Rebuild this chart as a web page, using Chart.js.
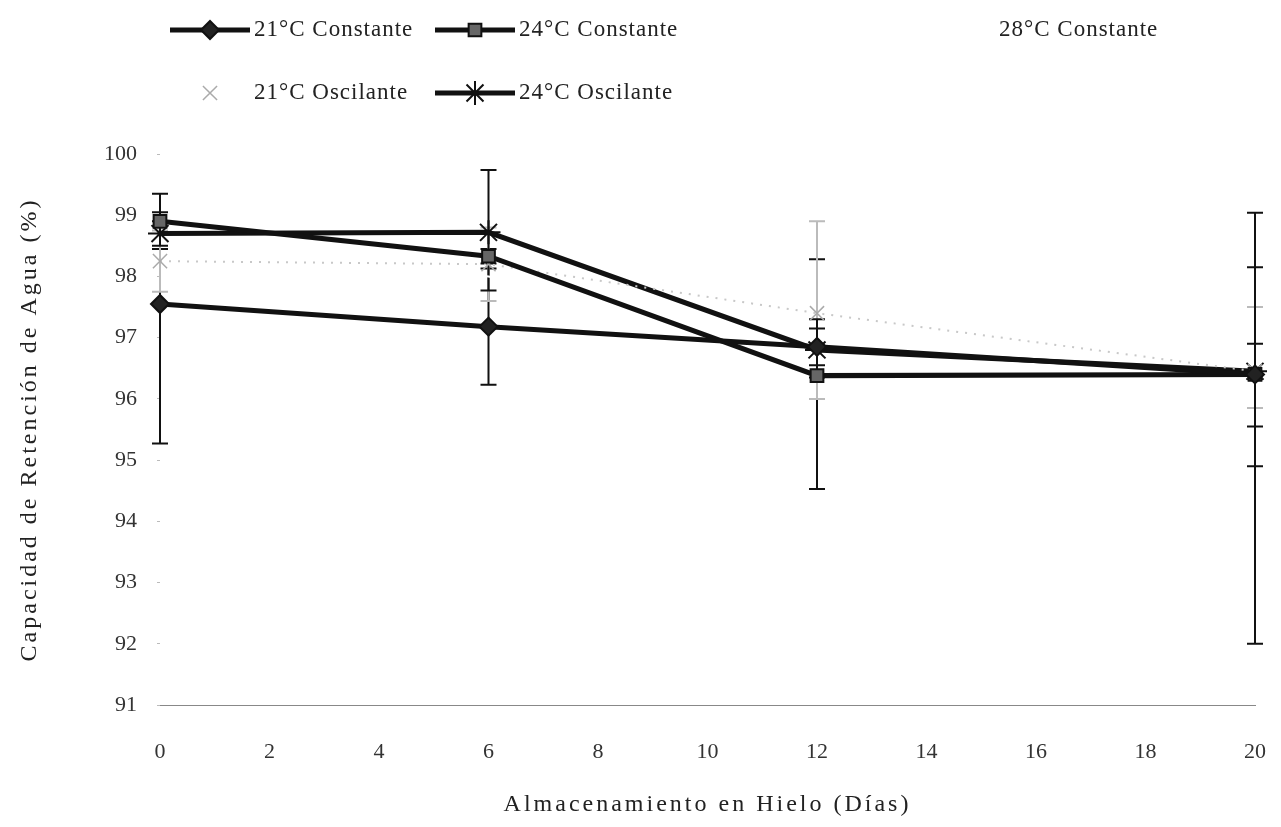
<!DOCTYPE html>
<html>
<head>
<meta charset="utf-8">
<script src="https://cdn.jsdelivr.net/npm/chart.js@4/dist/chart.umd.min.js"></script>
<style>
  html, body { margin: 0; padding: 0; background: #fff; overflow: hidden; }
  canvas { display: block; }
</style>
</head>
<body>
<canvas id="chart" width="1281" height="827"></canvas>
<script>
// storage days on ice
const days = [0, 6, 12, 20];

// water holding capacity (%) per treatment
const const21 = [97.55, 97.18, 96.85, 96.4];
const const24 = [98.9, 98.33, 96.38, 96.4];
const const28 = [98.6, 98.0, 96.9, 96.4];
const osc21 = [98.25, 98.2, 97.4, 96.45];
const osc24 = [98.7, 98.72, 96.8, 96.45];

// error bars (up / down)
const const21Up = [1.5, 0.95, 0.3, 2.64];
const const21Down = [2.28, 0.95, 0.3, 1.5];
const const24Up = [0.45, 0.12, 1.9, 0.5];
const const24Down = [0.45, 0.12, 1.85, 4.4];
const osc21Up = [0.5, 0.6, 1.5, 1.05];
const osc21Down = [0.5, 0.6, 1.4, 0.6];
const osc24Up = [0.2, 1.02, 0.5, 1.7];
const osc24Down = [0.2, 0.95, 0.45, 0.9];

const yTicks = [91, 92, 93, 94, 95, 96, 97, 98, 99, 100];
const xTicks = [0, 2, 4, 6, 8, 10, 12, 14, 16, 18, 20];

const xTitle = 'Almacenamiento en Hielo (Días)';
const yTitle = 'Capacidad de Retención de Agua (%)';

const FONT = "'Liberation Serif', 'DejaVu Serif', serif";

const toPoints = (vals) => days.map((d, i) => ({ x: d, y: vals[i] }));

const errorBars = {
  id: 'errorBars',
  beforeDatasetsDraw(chart) {
    const { ctx, scales: { x, y } } = chart;
    chart.data.datasets.forEach((ds) => {
      if (!ds.errUp) return;
      ctx.save();
      ctx.strokeStyle = ds.errColor;
      ctx.lineWidth = 2;
      ds.data.forEach((p, i) => {
        const px = x.getPixelForValue(p.x);
        const top = y.getPixelForValue(p.y + ds.errUp[i]);
        const bot = y.getPixelForValue(p.y - ds.errDown[i]);
        ctx.beginPath();
        ctx.moveTo(px, top);
        ctx.lineTo(px, bot);
        ctx.moveTo(px - 8, top);
        ctx.lineTo(px + 8, top);
        ctx.moveTo(px - 8, bot);
        ctx.lineTo(px + 8, bot);
        ctx.stroke();
      });
      ctx.restore();
    });
  }
};

// axis titles are spaced out in the original, so draw them here
const spacedTitles = {
  id: 'spacedTitles',
  afterDraw(chart) {
    const { ctx, chartArea } = chart;
    ctx.save();
    ctx.fillStyle = '#222';
    ctx.font = '24px ' + FONT;
    ctx.letterSpacing = '3px';
    ctx.textAlign = 'center';
    ctx.textBaseline = 'middle';
    ctx.fillText(xTitle, (chartArea.left + chartArea.right) / 2, 805);
    ctx.translate(30, (chartArea.top + chartArea.bottom) / 2);
    ctx.rotate(-Math.PI / 2);
    ctx.fillText(yTitle, 0, 0);
    ctx.restore();
  }
};

// legend drawn like the original: short line with the marker in the middle
const legendSpots = [
  { x: 170, y: 30 },
  { x: 435, y: 30 },
  { x: 915, y: 30 },
  { x: 170, y: 93 },
  { x: 435, y: 93 }
];

const lineLegend = {
  id: 'lineLegend',
  afterDraw(chart) {
    const { ctx } = chart;
    chart.data.datasets.forEach((ds, i) => {
      const spot = legendSpots[i];
      ctx.save();
      if (ds.showLegendLine) {
        ctx.strokeStyle = ds.borderColor;
        ctx.lineWidth = ds.borderWidth;
        ctx.beginPath();
        ctx.moveTo(spot.x, spot.y);
        ctx.lineTo(spot.x + 80, spot.y);
        ctx.stroke();
      }
      if (ds.pointStyle) {
        ctx.fillStyle = ds.pointBackgroundColor;
        ctx.strokeStyle = ds.pointBorderColor;
        ctx.lineWidth = ds.pointBorderWidth;
        Chart.helpers.drawPoint(ctx, {
          pointStyle: ds.pointStyle,
          radius: ds.pointRadius,
          rotation: 0,
          borderWidth: ds.pointBorderWidth
        }, spot.x + 40, spot.y);
      }
      ctx.fillStyle = '#222';
      ctx.font = '23px ' + FONT;
      ctx.letterSpacing = '1px';
      ctx.textBaseline = 'middle';
      ctx.fillText(ds.label, spot.x + 84, spot.y);
      ctx.restore();
    });
  }
};

new Chart(document.getElementById('chart'), {
  type: 'line',
  data: {
    datasets: [
      {
        label: '21°C Constante',
        data: toPoints(const21),
        borderColor: '#111',
        borderWidth: 5,
        pointStyle: 'rectRot',
        pointRadius: 9,
        pointBackgroundColor: '#222',
        pointBorderColor: '#111',
        pointBorderWidth: 2,
        errUp: const21Up,
        errDown: const21Down,
        errColor: '#111',
        showLegendLine: true,
        clip: false
      },
      {
        label: '24°C Constante',
        data: toPoints(const24),
        borderColor: '#111',
        borderWidth: 5,
        pointStyle: 'rect',
        pointRadius: 9,
        pointBackgroundColor: '#666',
        pointBorderColor: '#111',
        pointBorderWidth: 2,
        errUp: const24Up,
        errDown: const24Down,
        errColor: '#111',
        showLegendLine: true,
        clip: false
      },
      {
        label: '28°C Constante',
        data: toPoints(const28),
        borderColor: '#fff',
        borderWidth: 2,
        pointStyle: false,
        pointRadius: 0,
        showLegendLine: false,
        clip: false,
        order: 10
      },
      {
        label: '21°C Oscilante',
        data: toPoints(osc21),
        borderColor: '#c8c8c8',
        borderWidth: 2,
        borderDash: [2, 7],
        pointStyle: 'crossRot',
        pointRadius: 10,
        pointBackgroundColor: '#bbb',
        pointBorderColor: '#aaa',
        pointBorderWidth: 1.5,
        errUp: osc21Up,
        errDown: osc21Down,
        errColor: '#bbb',
        showLegendLine: false,
        clip: false
      },
      {
        label: '24°C Oscilante',
        data: toPoints(osc24),
        borderColor: '#111',
        borderWidth: 5,
        pointStyle: 'star',
        pointRadius: 12,
        pointBackgroundColor: '#111',
        pointBorderColor: '#111',
        pointBorderWidth: 2,
        errUp: osc24Up,
        errDown: osc24Down,
        errColor: '#111',
        showLegendLine: true,
        clip: false
      }
    ]
  },
  options: {
    responsive: false,
    animation: false,
    devicePixelRatio: 1,
    layout: { padding: { top: 154, right: 26, bottom: 0, left: 0 } },
    plugins: {
      legend: { display: false },
      tooltip: { enabled: false }
    },
    scales: {
      x: {
        type: 'linear',
        min: 0,
        max: 20,
        afterFit: (scale) => { scale.height = 122; },
        afterBuildTicks: (scale) => { scale.ticks = xTicks.map(v => ({ value: v })); },
        grid: {
          display: true,
          drawOnChartArea: false,
          drawTicks: true,
          tickLength: 30,
          tickColor: 'rgba(0,0,0,0)'
        },
        border: { display: true, color: '#888', width: 1, dash: [1, 3] },
        ticks: { padding: 4, color: '#333', font: { family: FONT, size: 22 } },
        title: { display: false }
      },
      y: {
        type: 'linear',
        min: 91,
        max: 100,
        afterFit: (scale) => { scale.width = 160; },
        afterBuildTicks: (scale) => { scale.ticks = yTicks.map(v => ({ value: v })); },
        grid: { display: true, drawOnChartArea: false, drawTicks: true, tickLength: 3, color: '#bbb' },
        border: { display: false },
        ticks: { padding: 20, color: '#333', font: { family: FONT, size: 22 } },
        title: { display: false }
      }
    }
  },
  plugins: [errorBars, spacedTitles, lineLegend]
});
</script>
</body>
</html>
